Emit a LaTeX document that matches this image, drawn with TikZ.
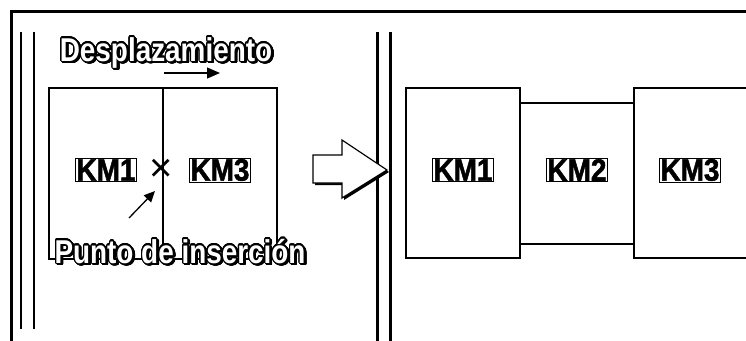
\documentclass[tikz,border=0pt]{standalone}
\usepackage{fontspec}
\setmainfont{Liberation Sans}
\newfontfamily\condf[FakeStretch=0.9,FakeBold=1.6]{Liberation Sans Bold}
\newfontfamily\outf[FakeStretch=0.845]{Liberation Sans Bold}
\usepackage{contour}
\contourlength{1.2pt}
\contournumber{24}
\newcommand{\outtext}[1]{\rlap{\raisebox{-1.6pt}{\kern1.6pt\contour{black}{\color{black}#1}}}{\color{white}\contour{black}{#1}}}
\usetikzlibrary{arrows.meta}
\begin{document}
\begin{tikzpicture}[x=1pt,y=-1pt,
  frame/.style={line width=3pt},
  rail/.style={line width=2.4pt},
  blk/.style={draw,line width=1.2pt},
  lbl/.style={draw,line width=0.9pt,inner sep=1pt,font=\condf\fontsize{31}{31}\selectfont},
  outl/.style={inner sep=0pt,anchor=base,font=\outf\fontsize{33}{33}\selectfont},
  arr/.style={line width=1.3pt,-{Triangle[length=13pt,width=11pt]}}]
\useasboundingbox (0,0) rectangle (746,340);
% frame
\draw[frame] (11,341) -- (11,11.5) -- (747,11.5);
% rails
\draw[rail] (21,32) -- (21,329);
\draw[rail] (34,32) -- (34,329);
\draw[rail] (377.5,32) -- (377.5,341);
\draw[rail] (390.5,32) -- (390.5,341);
% left blocks
\draw[blk] (49,88) rectangle (163,259);
\draw[blk] (163,88) rectangle (277,259);
\node[lbl] (l1) at (106,170) {KM1};
\node[lbl] (l3) at (220,170) {KM3};
\node[inner sep=0pt,font=\fontsize{40}{40}\selectfont] (x) at (161,170) {×};
% texts
\node[outl] (des) at (166,61) {\outtext{Desplazamiento}};
\coordinate (d1) at (164,73);
\coordinate (d2) at (220,73);
\draw[arr] (d1) -- (d2);
\node[outl] (pun) at (180,263) {\outtext{Punto de inserción}};
\coordinate (p1) at (129,218);
\coordinate (p2) at (155,191);
\draw[arr,-{Triangle[length=11pt,width=10pt]}] (p1) -- (p2);
% hollow arrow
\fill[black] (315,157) -- (344,157) -- (344,142) -- (389,172) -- (344,200) -- (344,185) -- (315,185) -- cycle;
\draw[fill=white,line width=1.2pt,line join=miter] (313,155) -- (342,155) -- (342,140) -- (387,170) -- (342,198) -- (342,183) -- (313,183) -- cycle;
% right blocks
\draw[blk] (406,88) rectangle (520,258);
\draw[blk] (520,103) -- (634,103);
\draw[blk] (520,244) -- (634,244);
\draw[blk] (747,88) -- (634,88) -- (634,258) -- (747,258);
\node[lbl] (r1) at (463,170) {KM1};
\node[lbl] (r2) at (577,170) {KM2};
\node[lbl] (r3) at (690,170) {KM3};
\end{tikzpicture}
\end{document}
